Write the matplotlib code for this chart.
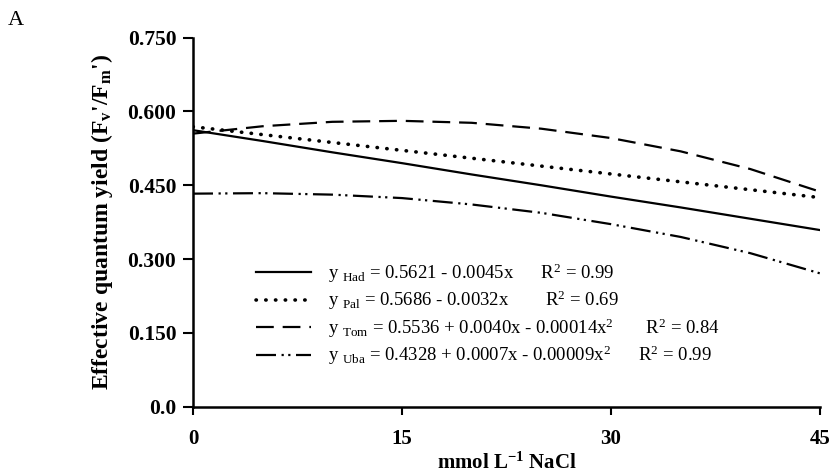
import numpy as np
import matplotlib
matplotlib.use("Agg")
import matplotlib.pyplot as plt

plt.rcParams['font.family'] = "Liberation Serif"
plt.rcParams['mathtext.fontset'] = "custom"
plt.rcParams['mathtext.rm'] = "Liberation Serif"
plt.rcParams['mathtext.it'] = "Liberation Serif:italic"
plt.rcParams['mathtext.bf'] = "Liberation Serif:bold"

# values (mmol L-1 NaCl vs Fv'/Fm')
nacl = [0, 5, 10, 15, 20, 25, 30, 35, 40, 45]
had = [0.562, 0.540, 0.517, 0.495, 0.472, 0.450, 0.427, 0.405, 0.382, 0.359]
pal = [0.569, 0.553, 0.537, 0.521, 0.505, 0.489, 0.473, 0.457, 0.441, 0.425]
tom = [0.555, 0.570, 0.579, 0.581, 0.577, 0.565, 0.546, 0.519, 0.483, 0.437]
uba = [0.433, 0.434, 0.431, 0.424, 0.411, 0.394, 0.371, 0.345, 0.312, 0.271]

labels = [r"y $_{\mathrm{Had}}$ = 0.5621 - 0.0045x      R$^{2}$ = 0.99",
          r"y $_{\mathrm{Pal}}$ = 0.5686 - 0.0032x        R$^{2}$ = 0.69",
          r"y $_{\mathrm{Tom}}$ = 0.5536 + 0.0040x - 0.00014x$^{2}$       R$^{2}$ = 0.84",
          r"y $_{\mathrm{Uba}}$ = 0.4328 + 0.0007x - 0.00009x$^{2}$      R$^{2}$ = 0.99"]

xticks = [0, 15, 30, 45]
yticks = [0.0, 0.150, 0.300, 0.450, 0.600, 0.750]
ytick_labels = ["0.0", "0.150", "0.300", "0.450", "0.600", "0.750"]

fig = plt.figure(figsize=(8.34, 4.74), dpi=100)
ax = fig.add_axes([0.2314, 0.142, 0.7518, 0.7785])

ax.plot(nacl, had, color="black", lw=1.6, linestyle="-", label=labels[0])
ax.plot(nacl, pal, color="black", lw=2.6, linestyle=(0, (0.1, 2.6)),
        dash_capstyle="round", label=labels[1])
ax.plot(nacl, tom, color="black", lw=1.6, linestyle=(0, (8, 4)), label=labels[2])
ax.plot(nacl, uba, color="black", lw=1.6,
        linestyle=(0, (9, 2.5, 1, 2, 1, 2.5)), label=labels[3])

ax.set_xlim(0, 45)
ax.set_ylim(0, 0.75)
ax.set_xticks(xticks)
ax.set_xticklabels([str(i) for i in xticks], fontsize=15, fontweight="bold")
ax.set_yticks(yticks)
ax.set_yticklabels(ytick_labels, fontsize=15.5, fontweight="bold")
ax.tick_params(axis="y", direction="out", length=7, width=1.5, pad=5)
ax.tick_params(axis="x", direction="out", length=6, width=1.5, pad=10)

for s in ["top", "right"]:
    ax.spines[s].set_visible(False)
for s in ["left", "bottom"]:
    ax.spines[s].set_linewidth(1.8)

ax.set_xlabel(r"mmol L$^{\mathbf{-1}}$ NaCl", fontsize=15, fontweight="bold", labelpad=3)
ax.set_ylabel(r"Effective quantum yield (F$_{\mathbf{v}}$'/F$_{\mathbf{m}}$')",
              fontsize=17, fontweight="bold", labelpad=9)

leg = ax.legend(loc="upper left", bbox_to_anchor=(0.074, 0.44), frameon=False,
                fontsize=13.5, handlelength=2.9, handletextpad=0.9, labelspacing=0.22)

fig.text(0.0096, 0.947, "A", fontsize=16)

plt.savefig("out.png", dpi=100)
plt.close()
